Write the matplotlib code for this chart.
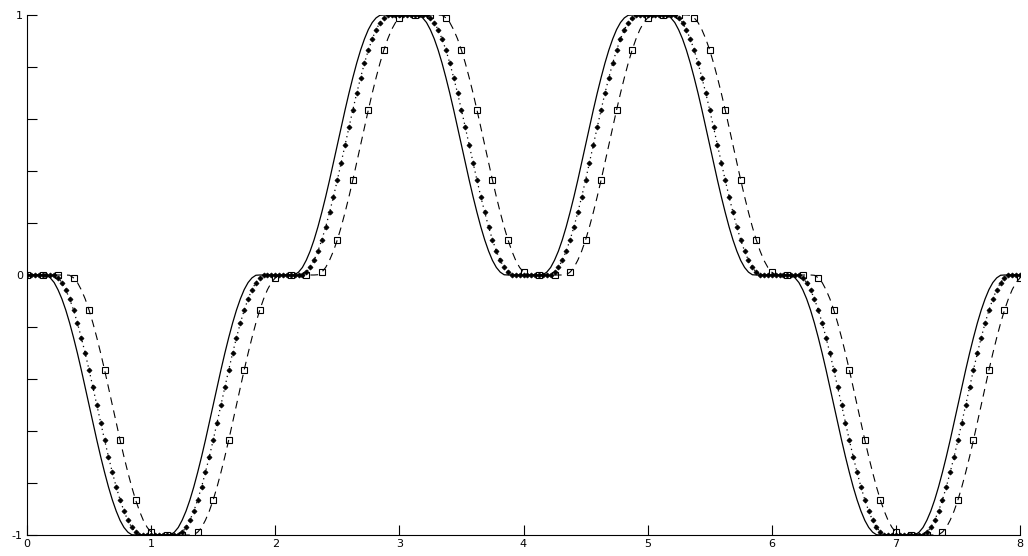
import numpy as np
import matplotlib
matplotlib.use('Agg')
import matplotlib.pyplot as plt

# ---- data ----
# level reached at each integer x
x_knots = [0, 1, 2, 3, 4, 5, 6, 7, 8]
levels = [0, -1, 0, 1, 0, 1, 0, -1, 0]
# fraction of each unit transition completed at offsets k/32
profile = [0.0, 0.0, 0.0, 0.0, 0.0, 0.001, 0.011, 0.029, 0.057, 0.092, 0.135,
           0.185, 0.241, 0.301, 0.365, 0.432, 0.5, 0.568, 0.635, 0.699, 0.759,
           0.815, 0.865, 0.908, 0.944, 0.971, 0.989, 0.999, 1.0, 1.0, 1.0, 1.0, 1.0]
samples_per_unit = 32
lag_dotted = 2      # samples of delay of the dotted series
lag_dashed = 6      # samples of delay of the dashed series
square_every = 4    # squares every 1/8
x_ticks = [0, 1, 2, 3, 4, 5, 6, 7, 8]
x_ticklabels = ['0', '1', '2', '3', '4', '5', '6', '7', '8']
y_ticks = [-1, -0.8, -0.6, -0.4, -0.2, 0, 0.2, 0.4, 0.6, 0.8, 1]
y_ticklabels = ['-1', '', '', '', '', '0', '', '', '', '', '1']

# ---- build series ----
solid = []
for n in range(len(levels) - 1):
    for k in range(samples_per_unit):
        solid.append(levels[n] + (levels[n + 1] - levels[n]) * profile[k])
solid.append(levels[-1])
solid = np.array(solid)
x = np.arange(len(solid)) / samples_per_unit


def delayed(y, lag):
    return np.concatenate([np.full(lag, levels[0]), y[:len(y) - lag]])


dotted = delayed(solid, lag_dotted)
dashed = delayed(solid, lag_dashed)

fig = plt.figure(figsize=(10.28, 5.56), dpi=100)
ax = fig.add_axes([27 / 1028, 21 / 556, 993 / 1028, 520 / 556])

ax.plot(x, solid, color='black', lw=0.9)
ax.plot(x, dotted, color='black', lw=0.9, linestyle=(0, (1, 3)),
        marker='D', markersize=2.6, markerfacecolor='black', markeredgecolor='black',
        markeredgewidth=0.5)
ax.plot(x, dashed, color='black', lw=0.8, linestyle=(0, (7, 5)),
        marker='s', markersize=4.6, markevery=square_every,
        markerfacecolor='none', markeredgecolor='black', markeredgewidth=0.8)

ax.set_xlim(0, 8)
ax.set_ylim(-1, 1)
ax.set_xticks(x_ticks)
ax.set_xticklabels(x_ticklabels)
ax.set_yticks(y_ticks)
ax.set_yticklabels(y_ticklabels)
ax.tick_params(direction='in', length=7, width=0.8, labelsize=8, pad=3, colors='black')
ax.spines['top'].set_visible(False)
ax.spines['right'].set_visible(False)
for s in ('left', 'bottom'):
    ax.spines[s].set_linewidth(0.8)
ax.set_facecolor('white')
fig.patch.set_facecolor('white')

fig.savefig('out.png', dpi=100)
